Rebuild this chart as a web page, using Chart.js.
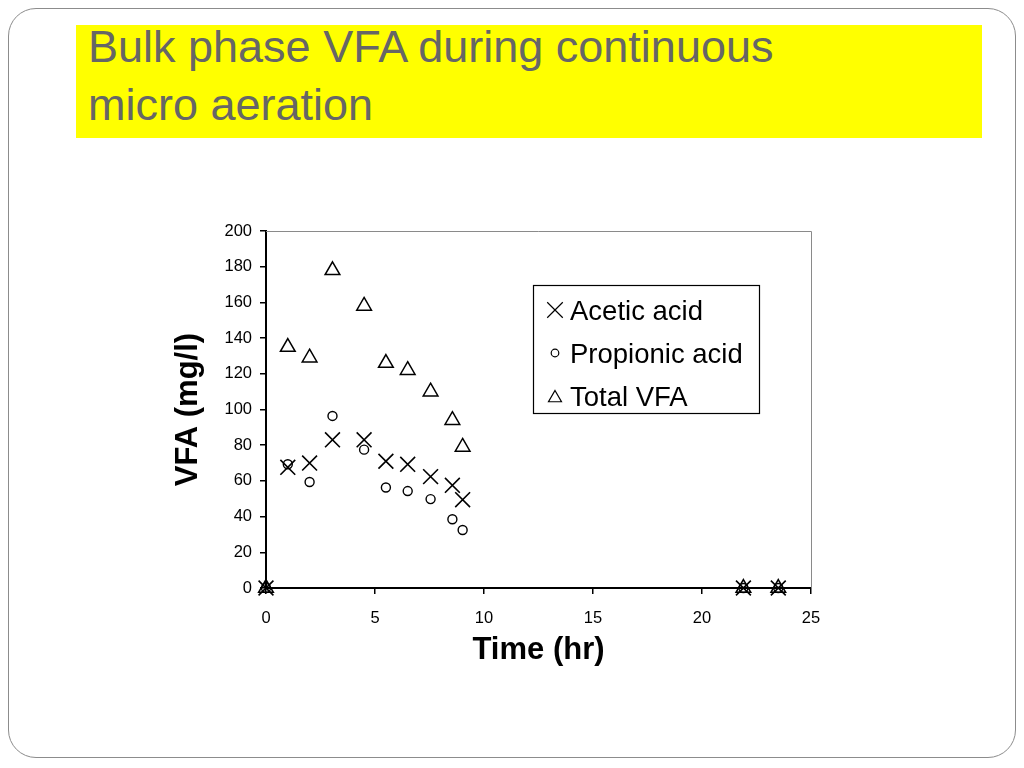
<!DOCTYPE html>
<html>
<head>
<meta charset="utf-8">
<script src="https://cdn.jsdelivr.net/npm/chart.js@4/dist/chart.umd.min.js"></script>
<style>
  html, body { margin: 0; padding: 0; background: #fff; }
  #slide { position: relative; width: 1024px; height: 768px; overflow: hidden; }
  #frame {
    position: absolute; left: 8px; top: 8px; width: 1006px; height: 748px;
    border: 1.5px solid #8c8c8c; border-radius: 28px;
  }
  #titlebox {
    position: absolute; left: 76px; top: 25px; width: 906px; height: 113px;
    background: #ffff00;
  }
  #title {
    position: absolute; left: 88px; top: 18px; margin: 0;
    font-family: "Liberation Sans", Arial, sans-serif; font-weight: normal;
    font-size: 45px; line-height: 58px; color: #666666;
  }
  #chart { position: absolute; left: 0; top: 0; }
</style>
</head>
<body>
<div id="slide">
  <div id="frame"></div>
  <div id="titlebox"></div>
  <h1 id="title">Bulk phase VFA during continuous<br>micro aeration</h1>
  <canvas id="chart" width="1024" height="768"></canvas>
</div>
<script>
// values (time in hours, VFA in mg/l)
const time = [0, 1, 2, 3.05, 4.5, 5.5, 6.5, 7.55, 8.55, 9.02, 21.9, 23.5];
const acetic = [0, 67.6, 70, 83, 83, 71, 69.3, 62.4, 57.5, 49.5, 0, 0];
const propionic = [0, 69.3, 59.4, 96.4, 77.5, 56.3, 54.3, 49.8, 38.5, 32.5, 0, 0];
const totalVfa = [0, 135, 129, 178, 158, 126, 122, 110, 94, 79, 0, 0];
const seriesNames = ["Acetic acid", "Propionic acid", "Total VFA"];

const font = "'Liberation Sans', Arial, sans-serif";

function toPoints(values) {
  return values.map((v, i) => ({ x: time[i], y: v }));
}

// gray frame on top and right, plus the boxed legend inside the plot
const framePlugin = {
  id: "frame",
  afterDraw(chart) {
    const ctx = chart.ctx;
    const area = chart.chartArea;
    ctx.save();
    ctx.strokeStyle = "#8a8a8a";
    ctx.lineWidth = 1;
    ctx.beginPath();
    ctx.moveTo(area.left, area.top + 0.5);
    ctx.lineTo(area.right + 0.5, area.top + 0.5);
    ctx.lineTo(area.right + 0.5, area.bottom);
    ctx.stroke();

    // legend
    ctx.fillStyle = "#fff";
    ctx.strokeStyle = "#000";
    ctx.lineWidth = 1.2;
    ctx.fillRect(533, 285, 226, 128);
    ctx.strokeRect(533.5, 285.5, 226, 128);
    const sizes = [11, 3.8, 7.5];
    chart.data.datasets.forEach((ds, i) => {
      const y = 309 + i * 43;
      ctx.strokeStyle = "#000";
      ctx.fillStyle = "rgba(0,0,0,0)";
      Chart.helpers.drawPoint(ctx, {
        pointStyle: ds.pointStyle,
        radius: sizes[i],
        borderWidth: 1.4,
        rotation: 0
      }, 555, y + 1 + (ds.pointStyle === "triangle" ? 2 : 0));
      ctx.fillStyle = "#000";
      ctx.font = "27.5px " + font;
      ctx.textBaseline = "middle";
      ctx.textAlign = "left";
      ctx.fillText(seriesNames[i], 570, y + 3);
    });
    ctx.restore();
  }
};

new Chart(document.querySelector("#chart").getContext("2d"), {
  type: "scatter",
  data: {
    datasets: [
      {
        label: seriesNames[0],
        data: toPoints(acetic),
        pointStyle: "crossRot",
        pointRadius: 10.5,
        borderColor: "#000",
        backgroundColor: "rgba(0,0,0,0)",
        borderWidth: 1.6,
        clip: false
      },
      {
        label: seriesNames[1],
        data: toPoints(propionic),
        pointStyle: "circle",
        pointRadius: 4.5,
        borderColor: "#000",
        backgroundColor: "rgba(0,0,0,0)",
        borderWidth: 1.4,
        clip: false
      },
      {
        label: seriesNames[2],
        data: toPoints(totalVfa),
        pointStyle: "triangle",
        pointRadius: 8.5,
        borderColor: "#000",
        backgroundColor: "rgba(0,0,0,0)",
        borderWidth: 1.5,
        clip: false
      }
    ]
  },
  options: {
    responsive: false,
    animation: false,
    events: [],
    layout: { padding: { left: 150, top: 231, right: 213, bottom: 90 } },
    plugins: { legend: { display: false }, tooltip: { enabled: false } },
    scales: {
      x: {
        type: "linear",
        min: 0,
        max: 25,
        afterFit(scale) { scale.height = 90; },
        ticks: { stepSize: 5, color: "#000", padding: 15, font: { family: font, size: 16.5 } },
        grid: { drawOnChartArea: false, color: "#000", tickLength: 6, lineWidth: 1.5 },
        border: { color: "#000", width: 2 },
        title: {
          display: true,
          text: "Time (hr)",
          color: "#000",
          padding: { top: 0, bottom: 9 },
          font: { family: font, size: 31, weight: "bold" }
        }
      },
      y: {
        min: 0,
        max: 200,
        afterFit(scale) { scale.width = 116; },
        ticks: { stepSize: 20, color: "#000", padding: 8, font: { family: font, size: 16.5 } },
        grid: { drawOnChartArea: false, color: "#000", tickLength: 6, lineWidth: 1.5 },
        border: { color: "#000", width: 2 },
        title: {
          display: true,
          text: "VFA (mg/l)",
          color: "#000",
          padding: { top: 20, bottom: 0 },
          font: { family: font, size: 31, weight: "bold" }
        }
      }
    }
  },
  plugins: [framePlugin]
});
</script>
</body>
</html>
